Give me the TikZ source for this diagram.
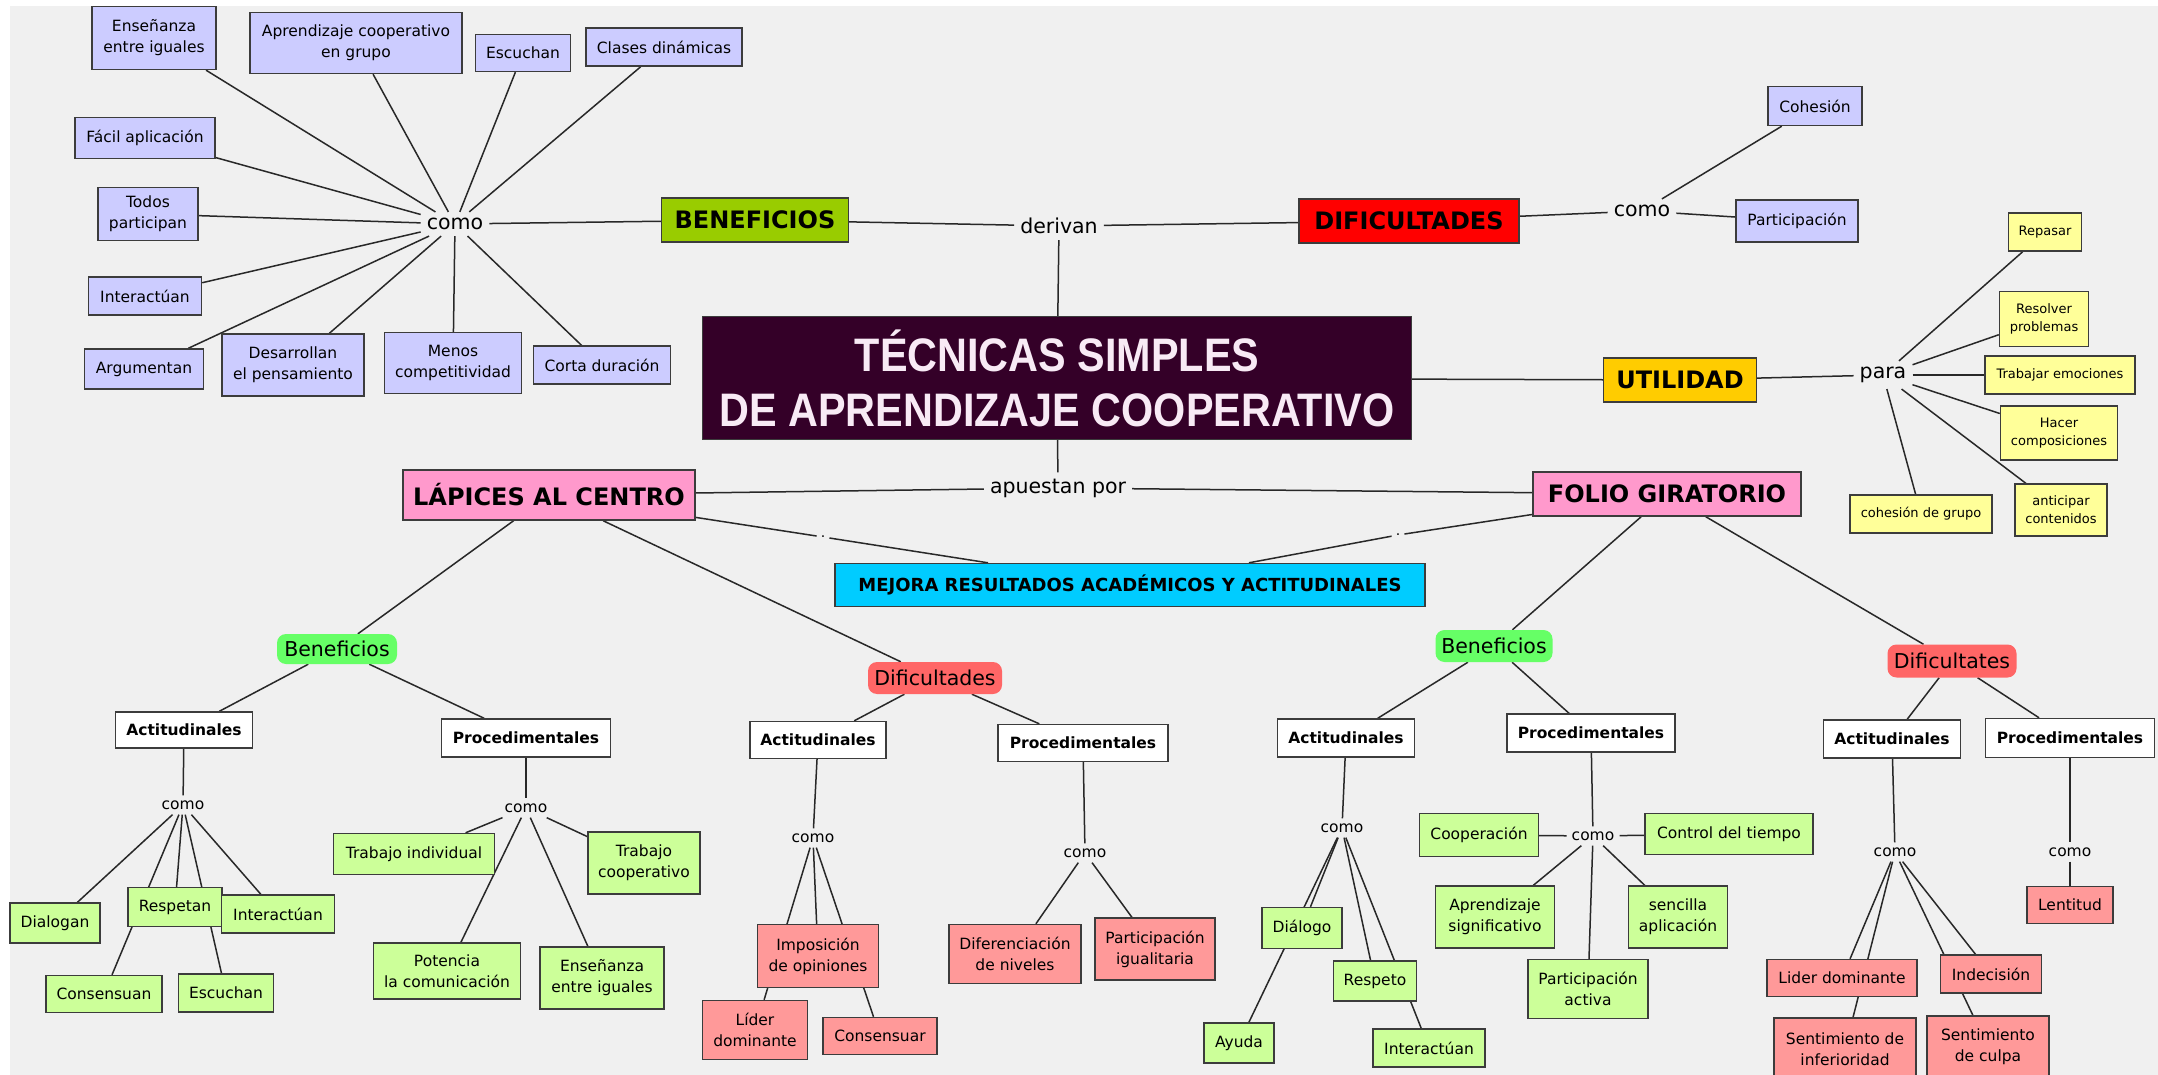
\documentclass[tikz,border=0pt]{standalone}
\usepackage{fontspec}
\usepackage{graphicx}
\setmainfont{DejaVu Sans}
\newfontfamily\titlefont{Liberation Sans}
\usetikzlibrary{backgrounds}
\definecolor{bgc}{RGB}{240,240,240}
\definecolor{lav}{RGB}{204,204,255}
\definecolor{yel}{RGB}{255,255,153}
\definecolor{grn}{RGB}{204,255,153}
\definecolor{rbox}{RGB}{255,153,153}
\definecolor{bgreen}{RGB}{153,204,0}
\definecolor{redh}{RGB}{255,0,0}
\definecolor{amber}{RGB}{255,204,0}
\definecolor{pinkh}{RGB}{255,153,204}
\definecolor{cyanh}{RGB}{0,204,255}
\definecolor{rgreen}{RGB}{102,255,102}
\definecolor{rred}{RGB}{255,102,102}
\definecolor{titlebg}{RGB}{52,0,40}
\definecolor{titlefg}{RGB}{248,234,245}
\definecolor{edgec}{RGB}{60,60,60}
\definecolor{linec}{RGB}{40,40,40}
\begin{document}
\begin{tikzpicture}[x=1pt,y=-1pt,
  sz/.style 2 args={minimum width=#1pt, minimum height=#2pt},
  base/.style={align=center, inner sep=2pt, font=\fontsize{15.5}{21}\selectfont},
  bx/.style={base, rectangle, draw=edgec, line width=1.4pt},
  lav/.style={bx, fill=lav},
  yel/.style={bx, fill=yel, font=\fontsize{13}{18}\selectfont},
  grn/.style={bx, fill=grn},
  rbx/.style={bx, fill=rbox},
  wht/.style={bx, fill=white, font=\bfseries\fontsize{15.5}{21}\selectfont},
  head/.style={bx, font=\bfseries\fontsize{24}{28}\selectfont},
  lk/.style={align=center, inner sep=6pt, font=\fontsize{20.5}{24}\selectfont},
  lks/.style={align=center, inner sep=5pt, font=\fontsize{15.5}{20}\selectfont},
  dotlk/.style={inner sep=4pt, font=\fontsize{14}{16}\selectfont},
  rnd/.style={rectangle, rounded corners=9pt, inner sep=3pt, font=\fontsize{20.5}{24}\selectfont},
  conn/.style={draw=linec, line width=1.5pt}]
\useasboundingbox (0,0) rectangle (2158,1075);

% ---------- top-left cluster ----------
\node[lav, sz={124}{63}] (tA1) at (154,38) {Enseñanza\\entre iguales};
\node[lav, sz={212}{61}] (tA2) at (356,43) {Aprendizaje cooperativo\\en grupo};
\node[lav, sz={95}{37}] (tA3) at (523,53) {Escuchan};
\node[lav, sz={156}{38}] (tA4) at (664,47) {Clases dinámicas};
\node[lav, sz={140}{41}] (tA5) at (145,138) {Fácil aplicación};
\node[lav, sz={100}{53}] (tA6) at (148,214) {Todos\\participan};
\node[lav, sz={113}{38}] (tA7) at (145,296) {Interactúan};
\node[lav, sz={119}{40}] (tA8) at (144,369) {Argumentan};
\node[lav, sz={142}{62}] (tA9) at (293,365) {Desarrollan\\el pensamiento};
\node[lav, sz={137}{61}] (tA10) at (453,363) {Menos\\competitividad};
\node[lav, sz={137}{38}] (tA11) at (602,365) {Corta duración};
\node[lk] (comoA) at (455,224) {como};

% ---------- top center ----------
\node[head, fill=bgreen, sz={187}{44}] (ben) at (755,220) {BENEFICIOS};
\node[lk] (deriv) at (1059,226) {derivan};
\node[head, fill=redh, sz={220}{44}] (dif) at (1409,221) {DIFICULTADES};
\node[lk] (comoB) at (1642,211) {como};
\node[lav, sz={94}{39}] (coh) at (1815,106) {Cohesión};
\node[lav, sz={122}{42}] (parti) at (1797,221) {Participación};

\node[rectangle, fill=titlebg, draw=edgec, line width=1pt, sz={709}{122}, inner sep=0pt,
      text=titlefg, align=center, font=\titlefont\bfseries\fontsize{47}{55}\selectfont] (title) at (1057,378)
  {\scalebox{0.88}[1]{TÉCNICAS SIMPLES}\\\scalebox{0.88}[1]{DE APRENDIZAJE COOPERATIVO}};

\node[head, fill=amber, sz={153}{44}] (util) at (1680,380) {UTILIDAD};
\node[lk] (para) at (1883,375) {para};
\node[yel, sz={73}{38}] (y1) at (2045,232) {Repasar};
\node[yel, sz={89}{55}] (y2) at (2044,319) {Resolver\\problemas};
\node[yel, sz={150}{38}] (y3) at (2060,375) {Trabajar emociones};
\node[yel, sz={117}{54}] (y4) at (2059,433) {Hacer\\composiciones};
\node[yel, sz={92}{52}] (y5) at (2061,510) {anticipar\\contenidos};
\node[yel, sz={142}{38}] (y6) at (1921,514) {cohesión de grupo};

\node[lk] (apu) at (1058,488) {apuestan por};
\node[head, fill=pinkh, sz={292}{50}] (lap) at (549,495) {LÁPICES AL CENTRO};
\node[head, fill=pinkh, sz={268}{44}] (folio) at (1667,494) {FOLIO GIRATORIO};
\node[dotlk] (dot1) at (823,537) {.};
\node[dotlk] (dot2) at (1398,535) {.};
\node[bx, fill=cyanh, sz={590}{43}, font=\bfseries\fontsize{18}{22}\selectfont] (mej) at (1130,585)
  {MEJORA RESULTADOS ACADÉMICOS Y ACTITUDINALES};

% ---------- Lápices: Beneficios ----------
\node[rnd, fill=rgreen, sz={120}{30}] (benL) at (337,649) {Beneficios};
\node[wht, sz={137}{36}] (actL) at (184,730) {Actitudinales};
\node[wht, sz={169}{38}] (procL) at (526,738) {Procedimentales};
\node[lks] (comoL1) at (183,805) {como};
\node[lks] (comoL2) at (526,808) {como};
\node[grn, sz={90}{40}] (dlg) at (55,923) {Dialogan};
\node[grn, sz={94}{39}] (rsp) at (175,907) {Respetan};
\node[grn, sz={113}{38}] (intL) at (278,914) {Interactúan};
\node[grn, sz={116}{37}] (cns) at (104,994) {Consensuan};
\node[grn, sz={95}{38}] (esc) at (226,993) {Escuchan};
\node[grn, sz={161}{41}] (tind) at (414,854) {Trabajo individual};
\node[grn, sz={112}{62}] (tcoop) at (644,863) {Trabajo\\cooperativo};
\node[grn, sz={147}{56}] (pot) at (447,971) {Potencia\\la comunicación};
\node[grn, sz={124}{62}] (ens2) at (602,978) {Enseñanza\\entre iguales};

% ---------- Lápices: Dificultades ----------
\node[rnd, fill=rred, sz={134}{32}] (difL) at (935,678) {Dificultades};
\node[wht, sz={136}{37}] (actL2) at (818,740) {Actitudinales};
\node[wht, sz={170}{37}] (procL2) at (1083,743) {Procedimentales};
\node[lks] (comoL3) at (813,838) {como};
\node[lks] (comoL4) at (1085,853) {como};
\node[rbx, sz={121}{63}] (imp) at (818,956) {Imposición\\de opiniones};
\node[rbx, sz={105}{59}] (lid) at (755,1030) {Líder\\dominante};
\node[rbx, sz={114}{37}] (cnsr) at (880,1036) {Consensuar};
\node[rbx, sz={132}{59}] (difn) at (1015,954) {Diferenciación\\de niveles};
\node[rbx, sz={120}{62}] (partig) at (1155,949) {Participación\\igualitaria};

% ---------- Folio: Beneficios ----------
\node[rnd, fill=rgreen, sz={117}{32}] (benR) at (1494,646) {Beneficios};
\node[wht, sz={137}{38}] (actR) at (1346,738) {Actitudinales};
\node[wht, sz={168}{38}] (procR) at (1591,733) {Procedimentales};
\node[lks] (comoR1) at (1342,828) {como};
\node[lks] (comoR2) at (1593,836) {como};
\node[grn, sz={80}{41}] (dia) at (1302,928) {Diálogo};
\node[grn, sz={70}{40}] (ayu) at (1239,1043) {Ayuda};
\node[grn, sz={83}{40}] (resp) at (1375,981) {Respeto};
\node[grn, sz={112}{38}] (intR) at (1429,1048) {Interactúan};
\node[grn, sz={119}{43}] (coop) at (1479,835) {Cooperación};
\node[grn, sz={168}{41}] (ctrl) at (1729,834) {Control del tiempo};
\node[grn, sz={119}{62}] (aps) at (1495,917) {Aprendizaje\\significativo};
\node[grn, sz={99}{62}] (senc) at (1678,917) {sencilla\\aplicación};
\node[grn, sz={120}{59}] (pact) at (1588,989) {Participación\\activa};

% ---------- Folio: Dificultates ----------
\node[rnd, fill=rred, sz={129}{33}] (difR) at (1952,661) {Dificultates};
\node[wht, sz={137}{38}] (actR2) at (1892,739) {Actitudinales};
\node[wht, sz={169}{39}] (procR2) at (2070,738) {Procedimentales};
\node[lks] (comoR3) at (1895,852) {como};
\node[lks] (comoR4) at (2070,852) {como};
\node[rbx, sz={150}{37}] (lidR) at (1842,978) {Lider dominante};
\node[rbx, sz={142}{62}] (sinf) at (1845,1049) {Sentimiento de\\inferioridad};
\node[rbx, sz={101}{38}] (inde) at (1991,974) {Indecisión};
\node[rbx, sz={122}{62}] (scul) at (1988,1047) {Sentimiento\\de culpa};
\node[rbx, sz={86}{37}] (lent) at (2070,905) {Lentitud};

\begin{pgfonlayer}{background}
\fill[white] (0,0) rectangle (2158,1075);
\fill[bgc] (10,6) rectangle (2158,1075);
\foreach \a/\b in {comoA/tA1,comoA/tA2,comoA/tA3,comoA/tA4,comoA/tA5,comoA/tA6,
  comoA/tA7,comoA/tA8,comoA/tA9,comoA/tA10,comoA/tA11,ben/comoA,
  ben/deriv,deriv/dif,title/deriv,dif/comoB,comoB/coh,comoB/parti,
  title/util,util/para,para/y1,para/y2,para/y3,para/y4,para/y5,para/y6,
  title/apu,apu/lap,apu/folio,lap/dot1,dot1/mej,folio/dot2,dot2/mej,
  lap/benL,lap/difL,folio/benR,folio/difR,
  benL/actL,benL/procL,actL/comoL1,comoL1/dlg,comoL1/rsp,comoL1/intL,comoL1/cns,comoL1/esc,
  procL/comoL2,comoL2/tind,comoL2/tcoop,comoL2/pot,comoL2/ens2,
  difL/actL2,difL/procL2,actL2/comoL3,comoL3/imp,comoL3/lid,comoL3/cnsr,
  procL2/comoL4,comoL4/difn,comoL4/partig,
  benR/actR,benR/procR,actR/comoR1,comoR1/dia,comoR1/ayu,comoR1/resp,comoR1/intR,
  procR/comoR2,comoR2/coop,comoR2/ctrl,comoR2/aps,comoR2/senc,comoR2/pact,
  difR/actR2,difR/procR2,actR2/comoR3,comoR3/lidR,comoR3/sinf,comoR3/inde,comoR3/scul,
  procR2/comoR4,comoR4/lent}
  {\draw[conn] (\a) -- (\b);}
\end{pgfonlayer}
\end{tikzpicture}
\end{document}
